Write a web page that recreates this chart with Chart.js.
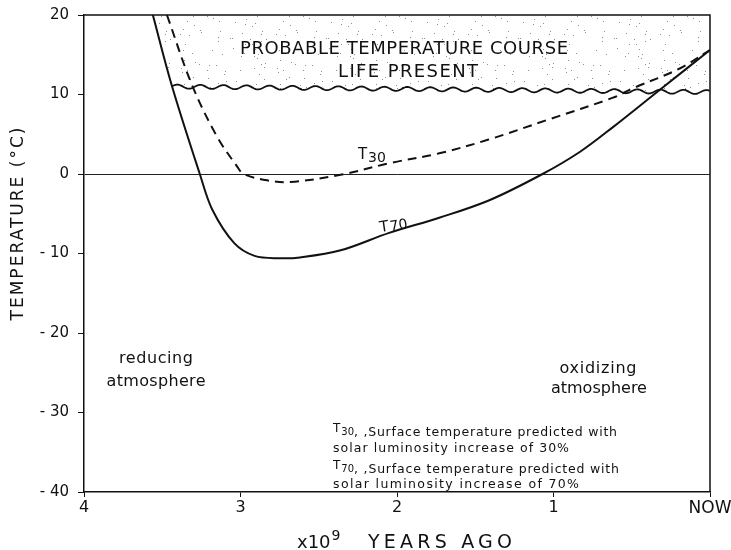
<!DOCTYPE html>
<html>
<head>
<meta charset="utf-8">
<script src="https://cdn.jsdelivr.net/npm/chart.js@4"></script>
<style>
  html, body { margin: 0; padding: 0; background: #fff; }
  #wrap { width: 731px; height: 550px; }
</style>
</head>
<body>
<div id="wrap"><canvas id="tempChart" width="731" height="550"></canvas></div>
<script>
// years ago (x10^9) and surface temperature (deg C)
const years70 = [3.56, 3.44, 3.26, 3.18, 3.04, 2.91, 2.75, 2.62, 2.36, 2.05, 1.73, 1.41, 1.07, 0.83, 0.62, 0.32, 0];
const temp70 = [20, 11.2, 0, -4.5, -8.7, -10.3, -10.6, -10.5, -9.6, -7.4, -5.5, -3.3, 0, 2.8, 5.9, 10.6, 15.6];

const years30 = [3.47, 3.31, 3.15, 3.02, 2.98, 2.83, 2.68, 2.36, 2.04, 1.73, 1.42, 1.04, 0.62, 0.49, 0.19, 0];
const temp30 = [20, 11.2, 4.7, 0.9, 0, -0.8, -1.0, -0.1, 1.4, 2.6, 4.3, 6.8, 9.6, 10.8, 13.3, 15.6];

// lower edge of the "life present" band
const lifeYears = [3.44, 0];
const lifeTemp = [11.0, 10.3];

const xTicks = [4, 3, 2, 1, 0];
const yTicks = [20, 10, 0, -10, -20, -30, -40];

const FONT = "'DejaVu Sans', sans-serif";

function toPoints(xs, ys) {
    return xs.map((x, i) => ({ x: x, y: ys[i] }));
}

// fine stipple for the shaded band: one jittered dot per small cell
function makeStipple(ctx) {
    const size = 96, cell = 8;
    const tile = document.createElement('canvas');
    tile.width = size; tile.height = size;
    const t = tile.getContext('2d');
    t.fillStyle = '#8f8f8f';
    let s = 2463534242;
    const next = () => { s ^= s << 13; s ^= s >>> 17; s ^= s << 5; return (s >>> 0) / 4294967296; };
    for (let cy = 0; cy < size; cy += cell) {
        for (let cx = 0; cx < size; cx += cell) {
            if (next() < 0.75) t.fillRect(cx + Math.floor(next() * cell), cy + Math.floor(next() * cell), 1, 1);
        }
    }
    return ctx.createPattern(tile, 'repeat');
}

const bandPlugin = {
    id: 'band',
    beforeDatasetsDraw(chart) {
        const { ctx, scales: { x, y }, chartArea } = chart;
        const x0 = x.getPixelForValue(lifeYears[0]);
        const x1 = x.getPixelForValue(lifeYears[1]);
        const y0 = y.getPixelForValue(lifeTemp[0]);
        const y1 = y.getPixelForValue(lifeTemp[1]);
        const period = 23, amp = 2;
        const waveAt = px => y0 + (y1 - y0) * (px - x0) / (x1 - x0) - amp * Math.sin(2 * Math.PI * (px - x0) / period);

        ctx.save();
        ctx.beginPath();
        ctx.moveTo(x.getPixelForValue(years70[0]), chartArea.top);
        ctx.lineTo(x0, waveAt(x0));
        for (let px = x0; px <= x1; px += 1) ctx.lineTo(px, waveAt(px));
        ctx.lineTo(x1, chartArea.top);
        ctx.closePath();
        ctx.fillStyle = makeStipple(ctx);
        ctx.fill();

        ctx.beginPath();
        ctx.moveTo(x0, waveAt(x0));
        for (let px = x0; px <= x1; px += 1) ctx.lineTo(px, waveAt(px));
        ctx.strokeStyle = '#111';
        ctx.lineWidth = 1.8;
        ctx.stroke();
        ctx.restore();
    }
};

// draw text spread out to a given width, centred on cx
function fitText(ctx, text, cx, cy, width, font) {
    ctx.font = font;
    ctx.letterSpacing = '0px';
    const w = ctx.measureText(text).width;
    const gap = Math.max(0, (width - w) / (text.length - 1));
    ctx.letterSpacing = gap + 'px';
    ctx.textAlign = 'left';
    ctx.fillText(text, cx - width / 2, cy);
    ctx.letterSpacing = '0px';
}

function subText(ctx, base, sub, px, py, size, subScale, drop) {
    ctx.font = size + 'px ' + FONT;
    ctx.fillText(base, px, py);
    const w = ctx.measureText(base).width;
    ctx.font = Math.round(size * subScale) + 'px ' + FONT;
    ctx.fillText(sub, px + w + 1, py + size * drop);
    return w + 1 + ctx.measureText(sub).width;
}

const textPlugin = {
    id: 'texts',
    afterDraw(chart) {
        const { ctx, scales: { x, y }, chartArea } = chart;
        ctx.save();
        ctx.fillStyle = '#111';
        ctx.strokeStyle = '#111';

        // frame top and right
        ctx.lineWidth = 1.5;
        ctx.beginPath();
        ctx.moveTo(chartArea.left, chartArea.top);
        ctx.lineTo(chartArea.right, chartArea.top);
        ctx.lineTo(chartArea.right, chartArea.bottom);
        ctx.stroke();

        ctx.textBaseline = 'middle';
        fitText(ctx, 'PROBABLE TEMPERATURE COURSE', 404, 49, 328, '18px ' + FONT);
        fitText(ctx, 'LIFE PRESENT', 408, 72, 140, '18px ' + FONT);

        fitText(ctx, 'reducing', x.getPixelForValue(3.54), y.getPixelForValue(-23.3), 74, '16px ' + FONT);
        fitText(ctx, 'atmosphere', x.getPixelForValue(3.54), y.getPixelForValue(-26.2), 99, '16px ' + FONT);
        fitText(ctx, 'oxidizing', x.getPixelForValue(0.716), y.getPixelForValue(-24.5), 77, '16px ' + FONT);
        fitText(ctx, 'atmosphere', x.getPixelForValue(0.716), y.getPixelForValue(-27.0), 94, '16px ' + FONT);

        // curve labels
        ctx.textAlign = 'left';
        subText(ctx, 'T', '30', x.getPixelForValue(2.25), y.getPixelForValue(2.4), 15, 0.95, 0.25);
        ctx.save();
        ctx.translate(x.getPixelForValue(2.11), y.getPixelForValue(-6.8));
        ctx.rotate(-0.15);
        subText(ctx, 'T', '70', 0, 0, 15, 0.95, 0.05);
        ctx.restore();

        // key
        const kx = 333;
        const keyFont = '12.5px ' + FONT;
        let w = subText(ctx, 'T', '30', kx, 429, 12, 0.8, 0.3);
        fitText(ctx, ', ,Surface temperature predicted with', (kx + w + 617) / 2, 433, 617 - kx - w, keyFont);
        fitText(ctx, 'solar luminosity increase of 30%', (kx + 569) / 2, 449, 569 - kx, keyFont);
        w = subText(ctx, 'T', '70', kx, 466, 12, 0.8, 0.3);
        fitText(ctx, ', ,Surface temperature predicted with', (kx + w + 619) / 2, 470, 619 - kx - w, keyFont);
        fitText(ctx, 'solar luminosity increase of 70%', (kx + 579) / 2, 485, 579 - kx, keyFont);

        // axis titles
        ctx.textAlign = 'left';
        ctx.font = '18px ' + FONT;
        ctx.fillText('x10', 297, 543);
        const xw = ctx.measureText('x10').width;
        ctx.font = '14px ' + FONT;
        ctx.fillText('9', 297 + xw + 1, 536);
        fitText(ctx, 'YEARS AGO', 440, 543, 144, '19px ' + FONT);
        ctx.save();
        ctx.translate(19, 224);
        ctx.rotate(-Math.PI / 2);
        fitText(ctx, 'TEMPERATURE (\u00B0C)', 0, 0, 193, '17px ' + FONT);
        ctx.restore();
        ctx.restore();
    }
};

// let the layout padding alone decide where the plot box sits
function noScalePadding(s) {
    s.paddingTop = 0; s.paddingBottom = 0; s.paddingLeft = 0; s.paddingRight = 0;
}

new Chart(document.getElementById('tempChart').getContext('2d'), {
    type: 'line',
    data: {
        datasets: [
            {
                label: 'T70',
                data: toPoints(years70, temp70),
                borderColor: '#111',
                borderWidth: 2,
                pointRadius: 0,
                tension: 0.35,
                fill: false
            },
            {
                label: 'T30',
                data: toPoints(years30, temp30),
                borderColor: '#111',
                borderWidth: 2,
                borderDash: [9, 6],
                pointRadius: 0,
                tension: 0.35,
                fill: false
            }
        ]
    },
    options: {
        responsive: false,
        animation: false,
        events: [],
        layout: { padding: { top: 15, right: 21, left: 0, bottom: 0 } },
        plugins: { legend: { display: false }, tooltip: { enabled: false } },
        scales: {
            x: {
                type: 'linear',
                reverse: true,
                min: 0,
                max: 4,
                afterBuildTicks: s => { s.ticks = xTicks.map(v => ({ value: v })); },
                afterFit: s => { s.height = 58; noScalePadding(s); },
                border: { color: '#111', width: 1.5 },
                grid: { color: 'rgba(0,0,0,0)', tickColor: '#111', tickLength: 5, drawOnChartArea: false },
                ticks: {
                    color: '#111',
                    font: c => ({ family: FONT, size: c.tick && c.tick.value === 0 ? 17 : 16 }),
                    padding: 1,
                    maxRotation: 0,
                    callback: v => v === 0 ? 'NOW' : String(v)
                }
            },
            y: {
                min: -40,
                max: 20,
                afterBuildTicks: s => { s.ticks = yTicks.map(v => ({ value: v })); },
                afterFit: s => { s.width = 84; noScalePadding(s); },
                border: { color: '#111', width: 1.5 },
                grid: {
                    color: c => c.tick && c.tick.value === 0 ? '#222' : 'rgba(0,0,0,0)',
                    lineWidth: 1,
                    tickColor: '#111',
                    tickLength: 6
                },
                ticks: {
                    color: '#111',
                    font: { family: FONT, size: 15 },
                    padding: 9,
                    callback: v => v < 0 ? '- ' + Math.abs(v) : String(v)
                }
            }
        }
    },
    plugins: [bandPlugin, textPlugin]
});
</script>
</body>
</html>
